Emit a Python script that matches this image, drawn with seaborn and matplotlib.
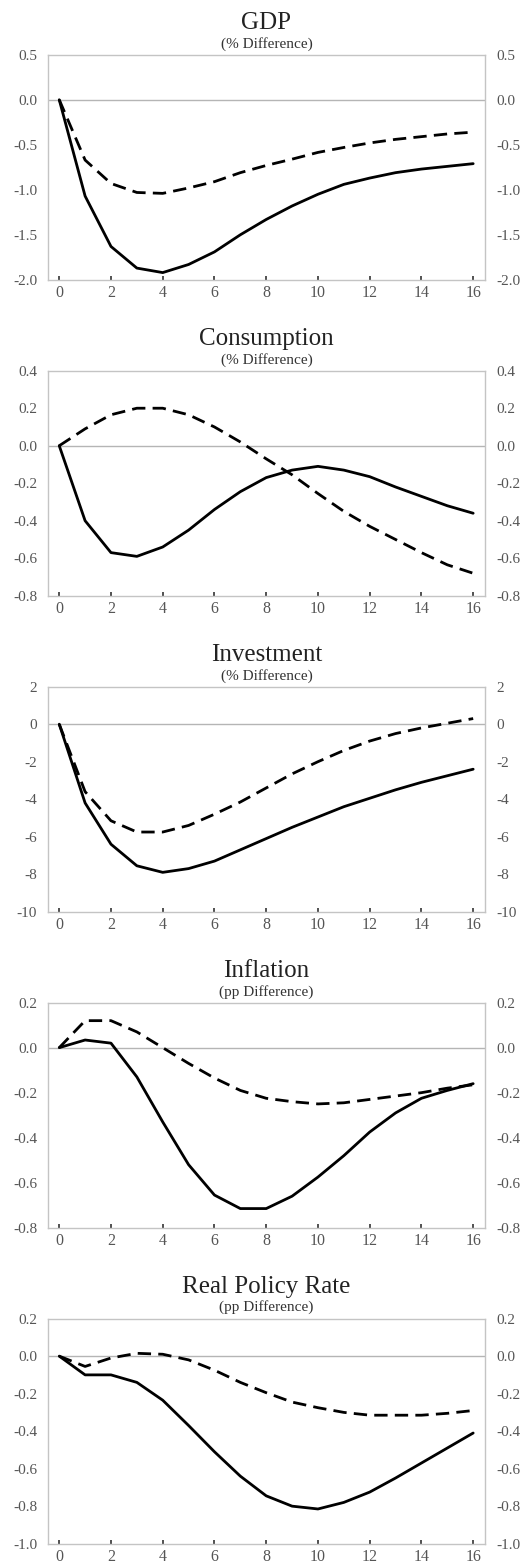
import matplotlib
matplotlib.use("Agg")
import matplotlib.pyplot as plt
import seaborn as sns
import numpy as np
import pandas as pd
from matplotlib.ticker import FormatStrFormatter

quarters = list(range(17))

gdp_solid = [0.0, -1.07, -1.63, -1.87, -1.92, -1.83, -1.69, -1.50, -1.33, -1.18,
             -1.05, -0.94, -0.87, -0.81, -0.77, -0.74, -0.71]
gdp_dashed = [0.0, -0.67, -0.93, -1.03, -1.04, -0.98, -0.91, -0.81, -0.73, -0.66,
              -0.585, -0.53, -0.48, -0.44, -0.41, -0.38, -0.36]

cons_solid = [0.0, -0.40, -0.57, -0.59, -0.54, -0.45, -0.34, -0.245, -0.17, -0.13,
              -0.11, -0.13, -0.165, -0.22, -0.27, -0.32, -0.36]
cons_dashed = [0.0, 0.09, 0.165, 0.20, 0.20, 0.165, 0.10, 0.02, -0.07, -0.155,
               -0.255, -0.35, -0.43, -0.50, -0.57, -0.635, -0.68]

inv_solid = [0.0, -4.2, -6.4, -7.55, -7.9, -7.7, -7.3, -6.7, -6.1, -5.5,
             -4.95, -4.4, -3.95, -3.5, -3.1, -2.75, -2.4]
inv_dashed = [0.0, -3.6, -5.15, -5.75, -5.75, -5.4, -4.8, -4.15, -3.4, -2.65,
              -2.0, -1.4, -0.9, -0.5, -0.2, 0.05, 0.3]

infl_solid = [0.0, 0.034, 0.02, -0.13, -0.33, -0.52, -0.655, -0.715, -0.715, -0.66,
              -0.575, -0.48, -0.375, -0.29, -0.225, -0.19, -0.16]
infl_dashed = [0.0, 0.12, 0.12, 0.07, 0.0, -0.07, -0.135, -0.19, -0.225, -0.24,
               -0.25, -0.245, -0.23, -0.215, -0.20, -0.18, -0.165]

rate_solid = [0.0, -0.10, -0.10, -0.14, -0.235, -0.37, -0.51, -0.64, -0.745, -0.80,
              -0.815, -0.78, -0.725, -0.65, -0.57, -0.49, -0.41]
rate_dashed = [0.0, -0.055, -0.01, 0.015, 0.01, -0.02, -0.075, -0.14, -0.195, -0.245,
               -0.275, -0.30, -0.315, -0.315, -0.315, -0.305, -0.29]

titles = ["GDP", "Consumption", "Investment", "Inflation", "Real Policy Rate"]
subtitles = ["(% Difference)", "(% Difference)", "(% Difference)",
             "(pp Difference)", "(pp Difference)"]
y_limits = [(-2.0, 0.5), (-0.8, 0.4), (-10, 2), (-0.8, 0.2), (-1.0, 0.2)]
y_steps = [0.5, 0.2, 2, 0.2, 0.2]
y_formats = ["%.1f", "%.1f", "%d", "%.1f", "%.1f"]
series = [(gdp_solid, gdp_dashed), (cons_solid, cons_dashed), (inv_solid, inv_dashed),
          (infl_solid, infl_dashed), (rate_solid, rate_dashed)]

sns.set_theme(style="white")
plt.rcParams["font.family"] = ["Liberation Serif", "DejaVu Serif"]
plt.rcParams["axes.unicode_minus"] = False

fig, axes = plt.subplots(5, 1, figsize=(5.23, 15.64), dpi=100)
fig.subplots_adjust(left=0.092, right=0.927, top=0.965, bottom=0.013, hspace=0.404)

spine_grey = "#c4c4c4"
label_grey = "#555555"

for ax, title, sub, ylim, step, fmt, (solid, dashed) in zip(
        axes, titles, subtitles, y_limits, y_steps, y_formats, series):
    df = pd.DataFrame({"quarter": quarters, "solid": solid, "dashed": dashed})
    ax.axhline(0, color="#b5b5b5", lw=1.0, zorder=1)
    sns.lineplot(data=df, x="quarter", y="solid", ax=ax, color="black", lw=2.0)
    sns.lineplot(data=df, x="quarter", y="dashed", ax=ax, color="black", lw=2.0)
    ax.lines[-1].set_dashes((4.8, 2.6))
    ax.set_xlim(-0.43, 16.45)
    ax.set_ylim(*ylim)
    yt = np.round(np.arange(ylim[0], ylim[1] + step / 2, step), 6)
    yt[np.abs(yt) < 1e-9] = 0.0
    ax.set_yticks(yt)
    ax.yaxis.set_major_formatter(FormatStrFormatter(fmt))
    ax.set_xticks(range(0, 17, 2))
    ax.set_xlabel("")
    ax.set_ylabel("")
    for s in ax.spines.values():
        s.set_color(spine_grey)
        s.set_linewidth(1.0)
    ax.tick_params(axis="x", direction="in", length=3, width=1.2, color="#333333",
                   labelsize=11.5, labelcolor=label_grey, pad=4, bottom=True)
    ax.tick_params(axis="y", length=0, labelsize=11, labelcolor=label_grey, pad=8,
                   left=True, right=True, labelleft=True, labelright=True)
    ax.annotate(title, xy=(0.5, 1), xycoords="axes fraction", xytext=(0, 23),
                textcoords="offset points", ha="center", va="center",
                fontsize=18, color="#222222")
    ax.annotate(sub, xy=(0.5, 1), xycoords="axes fraction", xytext=(0, 8),
                textcoords="offset points", ha="center", va="center",
                fontsize=11, color="#333333")

fig.savefig("out.png", dpi=100, facecolor="white")
